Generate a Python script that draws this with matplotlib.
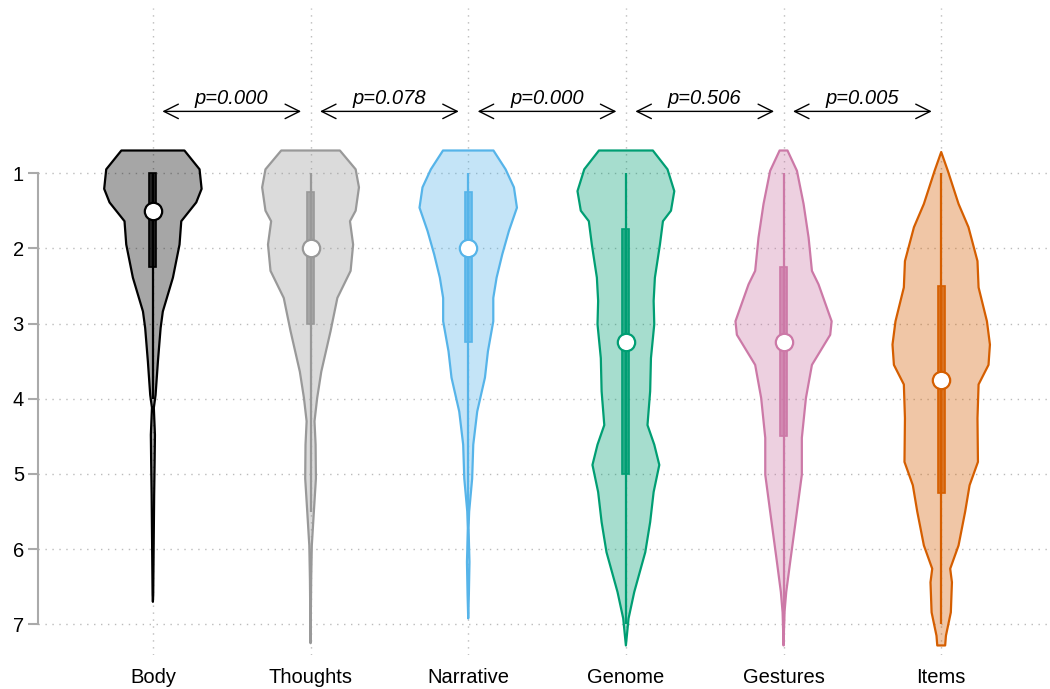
import matplotlib.pyplot as plt
import numpy as np

plt.rcParams['font.family'] = ['Liberation Sans', 'DejaVu Sans']

categories = ["Body", "Thoughts", "Narrative", "Genome", "Gestures", "Items"]
edge_colors = ["#000000", "#999999", "#56b4e9", "#009e73", "#cc79a7", "#d55e00"]

# violin outlines: rating value -> half width (category units)
body_y = [0.70, 0.95, 1.21, 1.39, 1.64, 1.95, 2.39, 2.84, 3.06, 3.50, 3.95, 4.12, 4.48, 4.84, 5.28, 5.72, 6.17, 6.61, 6.70]
body_w = [0.200, 0.296, 0.309, 0.275, 0.180, 0.169, 0.127, 0.063, 0.049, 0.032, 0.017, 0.006, 0.013, 0.011, 0.008, 0.006, 0.004, 0.002, 0.0]

thoughts_y = [0.70, 0.95, 1.19, 1.50, 1.64, 1.95, 2.30, 2.66, 3.10, 3.64, 3.99, 4.30, 4.61, 5.06, 5.50, 5.95, 6.39, 7.25]
thoughts_w = [0.186, 0.286, 0.307, 0.286, 0.250, 0.270, 0.254, 0.170, 0.127, 0.068, 0.042, 0.025, 0.032, 0.034, 0.021, 0.008, 0.004, 0.0]

narrative_y = [0.70, 0.95, 1.19, 1.46, 1.77, 2.08, 2.39, 2.66, 2.97, 3.37, 3.72, 4.17, 4.61, 5.06, 5.50, 5.72, 6.17, 6.61, 6.92]
narrative_w = [0.160, 0.237, 0.290, 0.309, 0.258, 0.216, 0.180, 0.159, 0.159, 0.125, 0.106, 0.057, 0.032, 0.025, 0.006, 0.002, 0.008, 0.004, 0.0]

genome_y = [0.70, 0.95, 1.24, 1.50, 1.64, 1.95, 2.39, 2.70, 3.01, 3.46, 3.90, 4.35, 4.61, 4.88, 5.24, 5.64, 6.04, 6.57, 6.92, 7.28]
genome_w = [0.171, 0.264, 0.307, 0.286, 0.235, 0.216, 0.184, 0.176, 0.180, 0.159, 0.154, 0.137, 0.180, 0.212, 0.176, 0.154, 0.123, 0.053, 0.017, 0.0]

gestures_y = [0.70, 0.97, 1.41, 1.86, 2.30, 2.48, 2.97, 3.15, 3.55, 3.99, 4.52, 5.01, 5.50, 6.17, 6.57, 6.84, 7.28]
gestures_w = [0.025, 0.085, 0.127, 0.159, 0.180, 0.222, 0.305, 0.296, 0.180, 0.142, 0.116, 0.116, 0.085, 0.042, 0.017, 0.006, 0.0]

items_y = [0.72, 0.97, 1.41, 1.72, 2.17, 2.52, 2.97, 3.28, 3.55, 3.81, 4.26, 4.84, 5.15, 5.50, 5.95, 6.26, 6.44, 6.84, 7.15, 7.28]
items_w = [0.0, 0.042, 0.110, 0.173, 0.230, 0.237, 0.290, 0.309, 0.300, 0.237, 0.230, 0.233, 0.180, 0.152, 0.110, 0.057, 0.068, 0.061, 0.030, 0.025]

# box plot stats
q1 = [1.00, 1.25, 1.25, 1.75, 2.25, 2.50]
q3 = [2.25, 3.00, 3.25, 5.00, 4.50, 5.25]
medians = [1.50, 2.00, 2.00, 3.25, 3.25, 3.75]
whisk_lo = [1.0, 1.0, 1.0, 1.0, 1.0, 1.0]
whisk_hi = [4.0, 5.5, 6.0, 7.0, 7.0, 7.0]

# pairwise comparisons between neighbours
p_values = ["0.000", "0.078", "0.000", "0.506", "0.005"]

profiles_y = [body_y, thoughts_y, narrative_y, genome_y, gestures_y, items_y]
profiles_w = [body_w, thoughts_w, narrative_w, genome_w, gestures_w, items_w]

fig = plt.figure(figsize=(10.5, 6.89), dpi=100)
ax = fig.add_axes([0.036, 0.049, 0.964, 0.94])

for i in range(len(categories)):
    c = edge_colors[i]
    y = np.array(profiles_y[i])
    w = np.array(profiles_w[i])
    ax.fill_betweenx(y, i - w, i + w, facecolor=c, alpha=0.35, edgecolor='none', zorder=2)
    ax.fill_betweenx(y, i - w, i + w, facecolor='none', edgecolor=c, lw=1.6, zorder=3)
    ax.vlines(i, whisk_lo[i], whisk_hi[i], color=c, lw=1.6, zorder=4)
    ax.bar(i, q3[i] - q1[i], bottom=q1[i], width=0.045, color=c, alpha=0.8, zorder=5)
    ax.bar(i, q3[i] - q1[i], bottom=q1[i], width=0.045, facecolor='none', edgecolor=c, lw=1.2, zorder=5)
    ax.plot(i, medians[i], 'o', ms=12.5, mfc='white', mec=c, mew=1.6, zorder=6)

for i, p in enumerate(p_values):
    ax.annotate("", xy=(i + 0.06, 0.18), xytext=(i + 0.94, 0.18),
                arrowprops=dict(arrowstyle='<->', lw=1.0, color='black', mutation_scale=26,
                                shrinkA=0, shrinkB=0))
    ax.text(i + 0.5, 0.13, "p=" + p, ha='center', va='bottom', fontsize=14.5, style='italic')

ax.set_xlim(-0.73, 5.69)
ax.set_ylim(7.41, -1.2)
ax.set_xticks(range(len(categories)))
ax.set_xticklabels(categories, fontsize=14.5)
ax.set_yticks([1, 2, 3, 4, 5, 6, 7])
ax.set_yticklabels(["1", "2", "3", "4", "5", "6", "7"], fontsize=14.5)
ax.tick_params(axis='x', length=0, pad=9)
ax.tick_params(axis='y', length=7, width=1.5, color='#aaaaaa', pad=3)

ax.grid(True, linestyle=(0, (1, 4)), color='#bbbbbb', lw=1.0, zorder=0)
ax.set_axisbelow(True)

for s in ['top', 'right', 'bottom']:
    ax.spines[s].set_visible(False)
ax.spines['left'].set_color('#aaaaaa')
ax.spines['left'].set_linewidth(1.5)
ax.spines['left'].set_bounds(1, 7)

fig.savefig("out.png", dpi=100)
